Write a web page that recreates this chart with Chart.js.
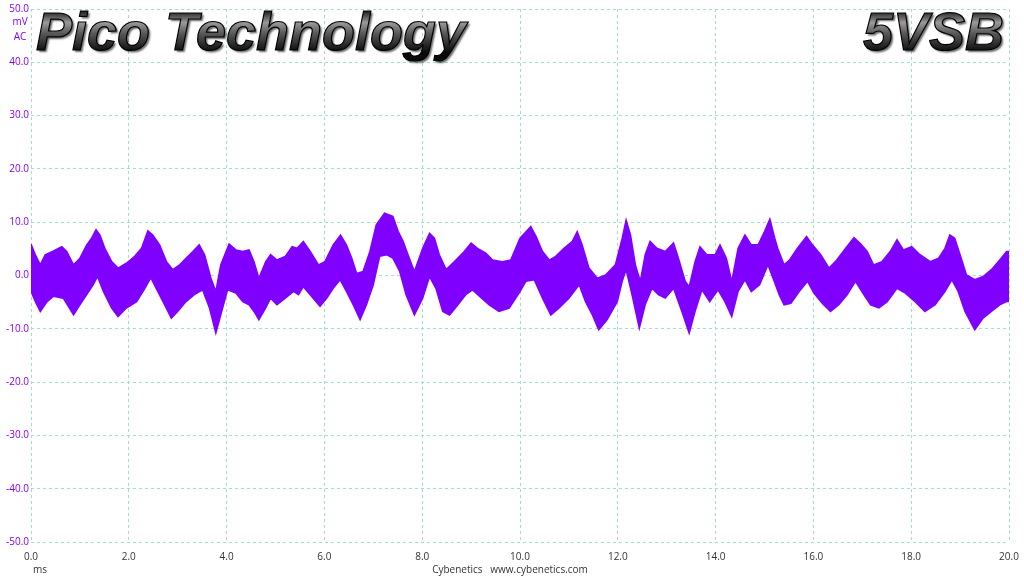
<!DOCTYPE html>
<html lang="en">
<head>
  <meta charset="UTF-8">
  <title>Pico Technology 5VSB</title>
  <style>
    html, body { margin: 0; padding: 0; background: #fff; }
    #wrap { width: 1024px; height: 576px; }
  </style>
</head>
<body>
  <div id="wrap">
    <canvas id="chart1" width="1024" height="576"></canvas>
  </div>

  <script src="https://cdn.jsdelivr.net/npm/chart.js@4.4.1/dist/chart.umd.min.js"></script>
  <script>
    // upper edge of the ripple band (time in ms, value in mV)
    const upperMs = [0.00, 0.09, 0.19, 0.29, 0.46, 0.63, 0.73, 0.87, 1.00, 1.14, 1.24, 1.33, 1.41, 1.51, 1.65, 1.78, 1.95, 2.12, 2.26, 2.39,
      2.49, 2.63, 2.77, 2.90, 3.04, 3.17, 3.31, 3.44, 3.55, 3.68, 3.78, 3.88, 4.05, 4.19, 4.33, 4.46, 4.56, 4.66, 4.80,
      4.90, 5.03, 5.20, 5.34, 5.44, 5.57, 5.71, 5.88, 6.01, 6.18, 6.33, 6.45, 6.56, 6.66, 6.79, 6.93, 7.06, 7.23, 7.40, 7.51,
      7.61, 7.71, 7.84, 8.01, 8.15, 8.25, 8.35, 8.49, 8.66, 8.83, 9.00, 9.13, 9.30, 9.44, 9.64, 9.81,
      10.00, 10.09, 10.22, 10.33, 10.46, 10.60, 10.73, 10.90, 11.07, 11.17, 11.27, 11.41, 11.58, 11.75, 11.95, 12.09, 12.17, 12.26,
      12.36, 12.46, 12.56, 12.66, 12.80, 12.97, 13.14, 13.24, 13.38, 13.46, 13.58, 13.68, 13.82, 13.99, 14.09, 14.22, 14.33, 14.46,
      14.60, 14.73, 14.87, 15.00, 15.11, 15.21, 15.27, 15.40, 15.51, 15.67, 15.86, 15.98, 16.15, 16.32, 16.45, 16.66, 16.83, 16.96,
      17.10, 17.23, 17.40, 17.57, 17.71, 17.84, 18.01, 18.18, 18.39, 18.56, 18.69, 18.79, 18.89, 19.00, 19.13, 19.30, 19.47, 19.64,
      19.84, 19.95, 20.00];
    const upperMv = [5.9, 3.9, 2.0, 3.9, 4.6, 5.4, 4.5, 2.0, 3.25, 5.75, 7.0, 8.6, 7.6, 5.1, 2.6, 1.4, 2.3, 3.6, 5.1, 8.4,
      7.6, 5.75, 2.6, 1.1, 2.0, 3.25, 4.5, 5.75, 3.9, -0.5, -3.0, 2.0, 5.9, 4.8, 4.5, 4.8, 2.6, -0.5, 2.6,
      3.9, 2.9, 3.6, 5.4, 5.1, 6.4, 4.5, 2.0, 2.6, 5.75, 7.6, 5.75, 3.25, 0.4, 0.75, 4.5, 9.5, 11.7, 11.1, 8.25,
      6.4, 3.9, 0.75, 5.1, 7.9, 7.0, 3.9, 1.1, 2.6, 4.2, 6.1, 5.1, 4.2, 2.9, 2.6, 2.9,
      7.0, 7.9, 9.2, 7.3, 4.5, 2.9, 3.6, 5.1, 6.4, 8.25, 5.75, 1.4, -0.5, 0.1, 2.0, 7.0, 10.4, 7.6,
      2.0, -1.1, 3.9, 6.4, 5.1, 4.5, 6.1, 3.25, -1.1, -2.1, 2.6, 5.4, 3.9, 3.9, 5.75, 3.25, -1.1, 5.1,
      7.6, 5.75, 5.75, 8.25, 10.6, 7.0, 5.1, 2.0, 2.9, 5.1, 7.3, 5.75, 3.9, 1.4, 2.6, 5.1, 7.1, 6.0,
      4.5, 2.0, 2.6, 4.5, 6.7, 4.8, 5.4, 3.9, 2.6, 3.25, 5.1, 7.6, 7.0, 3.9, 0.1, -0.8, -0.2, 1.1,
      3.25, 4.5, 4.5];

    // lower edge of the ripple band
    const lowerMs = [0.00, 0.09, 0.19, 0.33, 0.46, 0.66, 0.87, 1.00, 1.14, 1.27, 1.36, 1.48, 1.65, 1.78, 1.95, 2.16, 2.33, 2.45, 2.56, 2.70,
      2.87, 3.00, 3.17, 3.34, 3.51, 3.65, 3.78, 3.88, 4.02, 4.19, 4.33, 4.46, 4.56, 4.66, 4.80,
      4.90, 5.03, 5.20, 5.37, 5.47, 5.57, 5.71, 5.91, 6.05, 6.18, 6.32, 6.45, 6.59, 6.73, 6.86, 7.00, 7.13, 7.27, 7.40, 7.54,
      7.67, 7.84, 8.01, 8.15, 8.28, 8.42, 8.56, 8.73, 8.89, 9.03, 9.17, 9.37, 9.57, 9.78,
      10.00, 10.12, 10.29, 10.46, 10.63, 10.80, 11.00, 11.21, 11.34, 11.48, 11.61, 11.78, 11.99, 12.09, 12.17, 12.29, 12.44, 12.56,
      12.70, 12.83, 12.97, 13.14, 13.31, 13.46, 13.58, 13.72, 13.88, 14.05, 14.19, 14.33, 14.46, 14.60, 14.73, 14.90, 15.07,
      15.20, 15.30, 15.40, 15.54, 15.71, 15.88, 16.01, 16.18, 16.35, 16.52, 16.69, 16.86, 17.03, 17.17, 17.34, 17.51, 17.71, 17.88,
      18.08, 18.28, 18.49, 18.69, 18.83, 18.96, 19.10, 19.30, 19.47, 19.64, 19.81, 19.95, 20.00];
    const lowerMv = [-3.0, -4.9, -6.75, -4.9, -3.9, -4.25, -7.4, -5.5, -3.6, -1.75, -0.2, -3.0, -6.1, -7.7, -6.1, -4.9, -2.4, -0.4, -2.4, -4.9,
      -8.0, -6.75, -4.9, -3.6, -2.7, -6.1, -10.8, -7.4, -2.7, -3.3, -4.9, -5.5, -6.75, -8.3, -6.1,
      -4.25, -5.5, -4.25, -3.0, -3.6, -2.1, -3.6, -5.8, -4.25, -2.4, -0.8, -3.0, -5.5, -8.3, -5.5, -1.75, 3.6, 3.9, 3.25, 0.75,
      -3.6, -7.4, -4.25, -0.2, -2.4, -6.75, -7.4, -5.5, -3.6, -2.7, -3.9, -5.5, -6.75, -6.1,
      -3.0, -1.1, -0.8, -4.25, -7.4, -6.1, -4.25, -1.75, -4.9, -7.4, -10.2, -8.3, -4.9, -1.1, 1.1, -3.6, -9.9, -5.5,
      -2.4, -3.6, -4.25, -2.4, -6.75, -10.8, -6.75, -2.7, -4.9, -2.7, -4.9, -7.7, -3.0, -0.8, -3.0, -1.75, 2.0,
      -1.1, -3.6, -5.5, -5.2, -3.0, -1.1, -3.3, -5.2, -6.75, -5.5, -3.6, -1.1, -3.6, -5.5, -6.1, -4.9, -2.4, -3.3,
      -4.9, -6.75, -5.5, -3.0, -0.8, -3.0, -6.75, -10.2, -8.0, -6.75, -5.5, -4.9, -4.9];

    // axis ticks
    const timeTicks = [0, 2, 4, 6, 8, 10, 12, 14, 16, 18, 20];
    const voltTicks = [-50, -40, -30, -20, -10, 0, 10, 20, 30, 40, 50];

    const traceColor = "#7f00ff";
    const gridColor = "#a6d9d9";

    const upperPts = upperMs.map((t, i) => ({ x: t, y: upperMv[i] }));
    const lowerPts = lowerMs.map((t, i) => ({ x: t, y: lowerMv[i] }));

    // titles, units and credits drawn on top
    const textPlugin = {
      id: "texts",
      afterDraw(chart) {
        const ctx = chart.ctx;
        ctx.save();

        // purple unit labels under 50.0
        ctx.fillStyle = traceColor;
        ctx.font = "10px 'Open Sans', sans-serif";
        ctx.textAlign = "center";
        ctx.textBaseline = "middle";
        ctx.fillText("mV", 20, 22);
        ctx.fillText("AC", 20, 37);

        // bottom texts
        ctx.fillStyle = "#333";
        ctx.textAlign = "left";
        ctx.fillText("ms", 33, 570);
        ctx.textAlign = "center";
        ctx.fillText("Cybenetics   www.cybenetics.com", 510, 570);

        // big metallic titles
        const drawTitle = (txt, x, align) => {
          ctx.font = "italic bold 54px 'Liberation Sans', Arial, sans-serif";
          ctx.textAlign = align;
          ctx.textBaseline = "alphabetic";
          const g = ctx.createLinearGradient(0, 10, 0, 52);
          g.addColorStop(0, "#111");
          g.addColorStop(0.3, "#9a9a9a");
          g.addColorStop(0.55, "#5a5a5a");
          g.addColorStop(1, "#0a0a0a");
          ctx.shadowColor = "rgba(0,0,0,0.6)";
          ctx.shadowBlur = 2;
          ctx.shadowOffsetX = 2;
          ctx.shadowOffsetY = 2;
          ctx.fillStyle = g;
          ctx.fillText(txt, x, 50);
          ctx.shadowColor = "transparent";
          ctx.lineWidth = 1.2;
          ctx.strokeStyle = "#000";
          ctx.strokeText(txt, x, 50);
        };
        drawTitle("Pico Technology", 36, "left");
        drawTitle("5VSB", 1004, "right");

        ctx.restore();
      }
    };

    new Chart(chart1, {
      type: "line",
      data: {
        datasets: [
          {
            label: "max",
            data: upperPts,
            borderColor: traceColor,
            backgroundColor: traceColor,
            borderWidth: 1.5,
            pointRadius: 0,
            tension: 0,
            fill: "+1",
          },
          {
            label: "min",
            data: lowerPts,
            borderColor: traceColor,
            backgroundColor: traceColor,
            borderWidth: 1.5,
            pointRadius: 0,
            tension: 0,
            fill: false,
          },
        ],
      },
      options: {
        responsive: false,
        animation: false,
        layout: { padding: { top: 9, right: 15, left: 0, bottom: 0 } },
        plugins: {
          legend: { display: false },
          tooltip: { enabled: false },
        },
        scales: {
          x: {
            type: "linear",
            min: 0,
            max: 20,
            afterBuildTicks: (scale) => { scale.ticks = timeTicks.map(v => ({ value: v })); },
            afterFit: (scale) => {
              scale.height = 34;
              scale.paddingLeft = 0;
              scale.paddingRight = 0;
            },
            grid: { color: gridColor, drawTicks: false },
            border: { display: false, dash: [3, 3] },
            ticks: {
              padding: 9,
              color: "#333",
              font: { family: "'Open Sans', sans-serif", size: 10 },
              callback: (v) => Number(v).toFixed(1),
            },
          },
          y: {
            min: -50,
            max: 50,
            afterBuildTicks: (scale) => { scale.ticks = voltTicks.map(v => ({ value: v })); },
            afterFit: (scale) => {
              scale.width = 31;
              scale.paddingTop = 0;
              scale.paddingBottom = 0;
            },
            grid: { color: gridColor, drawTicks: false },
            border: { display: false, dash: [3, 3] },
            ticks: {
              padding: 2,
              color: traceColor,
              font: { family: "'Open Sans', sans-serif", size: 10 },
              callback: (v) => Number(v).toFixed(1),
            },
          },
        },
      },
      plugins: [textPlugin],
    });
  </script>
</body>
</html>
